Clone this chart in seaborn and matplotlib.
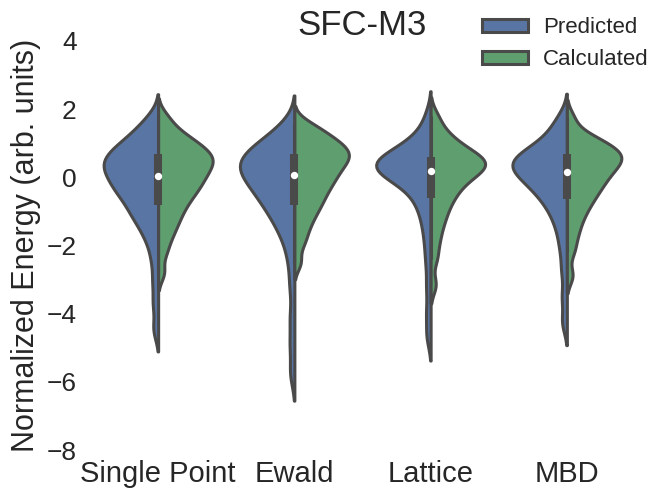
import matplotlib
matplotlib.use("Agg")
import matplotlib.pyplot as plt
import numpy as np
import pandas as pd
import seaborn as sns

sns.set_style("white")
plt.rcParams["font.family"] = ["Liberation Sans", "DejaVu Sans"]

# categories on the x axis and the two halves of every violin
methods = ["Single Point", "Ewald", "Lattice", "MBD"]
sources = ["Predicted", "Calculated"]

# normalized energies
sp_pred = [-4.45, -3.7, -3.05, -2.45, -2.0, -1.7, -1.5, -1.3, -1.15, -1.05, -0.93, -0.8,
           -0.67, -0.57, -0.49, -0.41, -0.33, -0.25, -0.17, -0.09, -0.02, 0.05, 0.12, 0.19,
           0.26, 0.32, 0.38, 0.44, 0.5, 0.56, 0.62, 0.69, 0.76, 0.84, 0.92, 1.01, 1.11, 1.22,
           1.36, 1.54, 1.78]
sp_calc = [-2.8, -2.23, -1.88, -1.63, -1.43, -1.26, -1.1, -0.96, -0.83, -0.71, -0.6, -0.5,
           -0.41, -0.32, -0.24, -0.16, -0.08, 0.0, 0.07, 0.14, 0.21, 0.28, 0.35, 0.41, 0.47,
           0.53, 0.59, 0.65, 0.71, 0.78, 0.85, 0.93, 1.01, 1.1, 1.2, 1.33, 1.52, 1.8]
ew_pred = [-5.75, -4.9, -4.1, -3.2, -2.5, -2.0, -1.68, -1.45, -1.26, -1.1, -0.96, -0.83,
           -0.71, -0.6, -0.5, -0.41, -0.32, -0.23, -0.15, -0.07, 0.01, 0.08, 0.15, 0.22, 0.28,
           0.34, 0.4, 0.46, 0.52, 0.58, 0.65, 0.72, 0.8, 0.88, 0.97, 1.07, 1.19, 1.35, 1.6]
ew_calc = [-2.5, -1.98, -1.68, -1.43, -1.23, -1.06, -0.91, -0.78, -0.66, -0.54, -0.43, -0.33,
           -0.23, -0.14, -0.05, 0.03, 0.11, 0.19, 0.27, 0.34, 0.41, 0.48, 0.54, 0.6, 0.66,
           0.72, 0.78, 0.84, 0.91, 0.98, 1.05, 1.13, 1.22, 1.33, 1.45, 1.6]
la_pred = [-4.65, -3.95, -3.2, -2.5, -1.95, -1.5, -1.15, -0.88, -0.66, -0.48, -0.33, -0.2,
           -0.1, -0.02, 0.05, 0.11, 0.17, 0.22, 0.27, 0.31, 0.35, 0.39, 0.43, 0.47, 0.52,
           0.57, 0.63, 0.7, 0.78, 0.88, 1.0, 1.15, 1.35, 1.8]
la_calc = [-3.15, -2.4, -1.95, -1.6, -1.32, -1.1, -0.9, -0.73, -0.58, -0.45, -0.33, -0.22,
           -0.12, -0.03, 0.05, 0.12, 0.19, 0.25, 0.31, 0.36, 0.41, 0.46, 0.51, 0.57, 0.63,
           0.7, 0.78, 0.87, 0.97, 1.09, 1.24, 1.45, 1.8]
mbd_pred = [-4.25, -3.5, -2.75, -2.15, -1.7, -1.36, -1.1, -0.9, -0.73, -0.58, -0.46, -0.35,
            -0.25, -0.16, -0.07, 0.01, 0.08, 0.15, 0.22, 0.28, 0.34, 0.4, 0.45, 0.5, 0.56,
            0.62, 0.69, 0.77, 0.86, 0.97, 1.1, 1.27, 1.5, 1.78]
mbd_calc = [-2.88, -2.18, -1.78, -1.48, -1.23, -1.03, -0.86, -0.71, -0.58, -0.46, -0.35,
            -0.25, -0.15, -0.06, 0.03, 0.11, 0.19, 0.27, 0.34, 0.41, 0.47, 0.53, 0.59, 0.65,
            0.71, 0.77, 0.84, 0.91, 0.99, 1.08, 1.19, 1.33, 1.75]

values = {
    ("Single Point", "Predicted"): sp_pred, ("Single Point", "Calculated"): sp_calc,
    ("Ewald", "Predicted"): ew_pred, ("Ewald", "Calculated"): ew_calc,
    ("Lattice", "Predicted"): la_pred, ("Lattice", "Calculated"): la_calc,
    ("MBD", "Predicted"): mbd_pred, ("MBD", "Calculated"): mbd_calc,
}
rows = []
for (m, s), vals in values.items():
    for v in vals:
        rows.append({"method": m, "source": s, "energy": v})
df = pd.DataFrame(rows)

gray = "#4a4a4a"
fig = plt.figure(figsize=(6.49, 4.91), dpi=100)
ax = fig.add_axes([0.1387, 0.0835, 0.8397, 0.833])

sns.violinplot(data=df, x="method", y="energy", hue="source", order=methods,
               hue_order=sources, split=True, inner=None, palette=["#4C72B0", "#55A868"],
               linewidth=2.2, linecolor=gray, density_norm="width", bw_adjust=0.5,
               cut=2, width=0.8, ax=ax)

# old-style inner box on the pooled data of each category
for i, m in enumerate(methods):
    d = df.loc[df["method"] == m, "energy"].to_numpy()
    q1, med, q3 = np.percentile(d, [25, 50, 75])
    lim = 1.5 * (q3 - q1)
    lo = d[d >= q1 - lim].min()
    hi = d[d <= q3 + lim].max()
    ax.vlines(i, lo, hi, color=gray, linewidth=2.2, zorder=3)
    ax.vlines(i, q1, q3, color=gray, linewidth=5.8, zorder=3)
    ax.scatter(i, med, s=28, color="white", zorder=4, linewidth=0)

ax.set_xlim(-0.5, len(methods) - 0.5)
ax.set_ylim(-8, 4)
ax.set_yticks([-8, -6, -4, -2, 0, 2, 4])
ax.set_xlabel("")
ax.set_ylabel("Normalized Energy (arb. units)", fontsize=22)
ax.set_title("SFC-M3", fontsize=25, pad=4)
ax.tick_params(axis="y", labelsize=19, pad=9.5, length=0)
ax.tick_params(axis="x", labelsize=21, pad=7, length=0)
sns.despine(left=True, bottom=True)

handles, labels = ax.get_legend_handles_labels()
ax.legend(handles, labels, loc="upper left", bbox_to_anchor=(0.743, 0.965),
          bbox_transform=fig.transFigure, frameon=False, fontsize=16, borderpad=0,
          borderaxespad=0, handlelength=2.05, handleheight=0.55, labelspacing=0.5,
          handletextpad=0.7)

fig.savefig("out.png", dpi=100)
